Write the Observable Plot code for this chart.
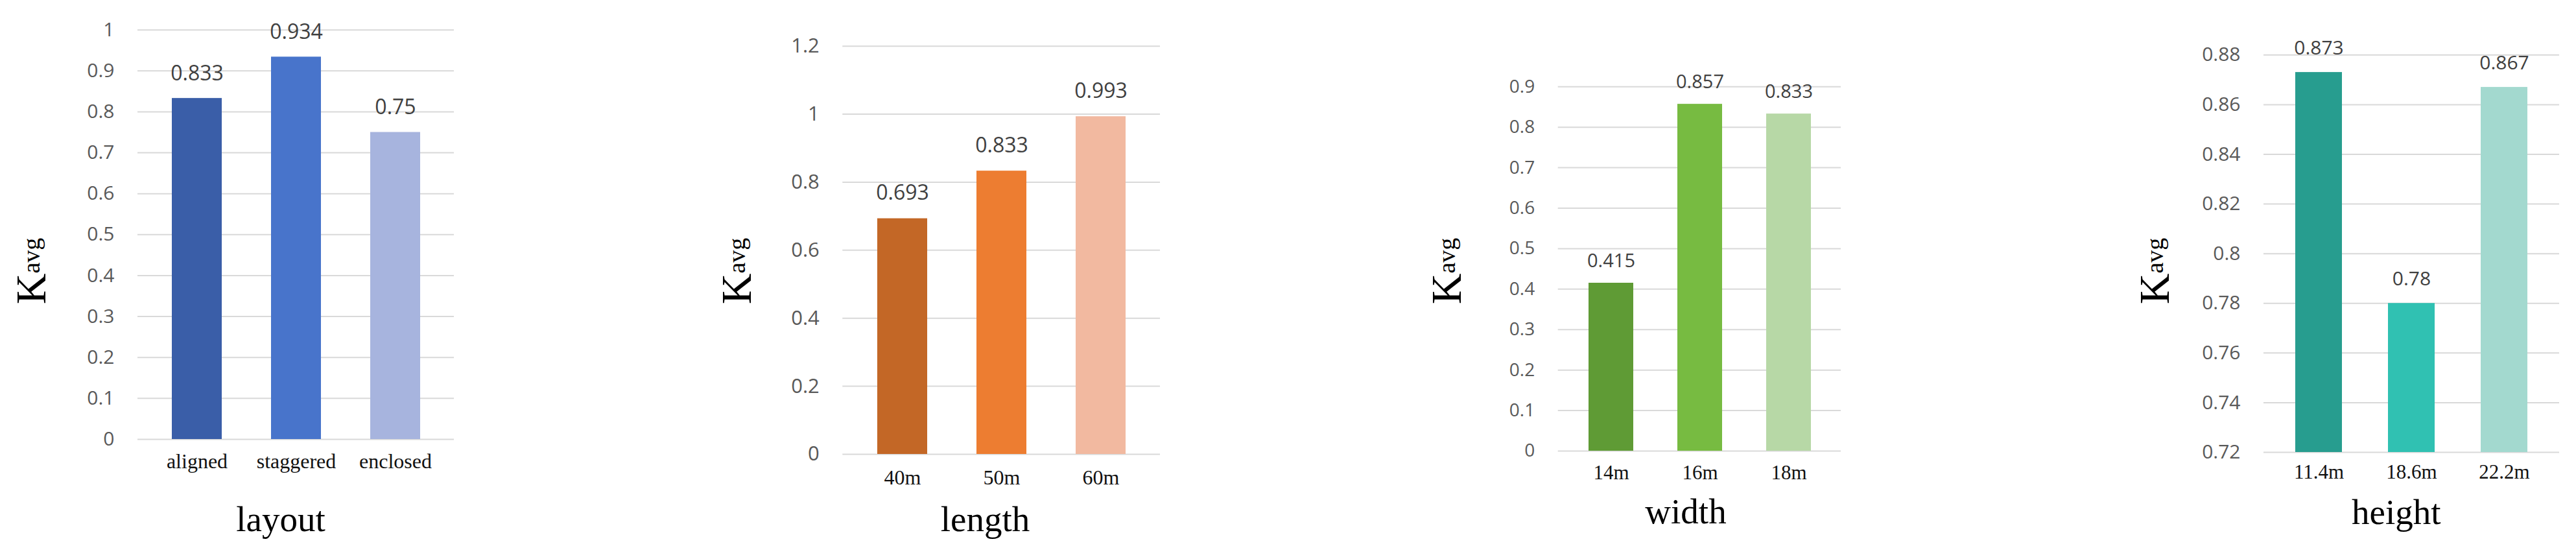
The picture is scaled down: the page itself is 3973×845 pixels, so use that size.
<!DOCTYPE html>
<html><head><meta charset="utf-8">
<script src="https://cdn.jsdelivr.net/npm/d3@7"></script>
<script src="https://cdn.jsdelivr.net/npm/@observablehq/plot@0.6"></script>
<style>
html,body{margin:0;padding:0;background:#fff;}
#root{position:relative;width:3973px;height:845px;overflow:hidden;background:#fff;}
#root svg{position:absolute;top:0;}
</style></head><body><div id="root"></div>
<script>
// ---- data ----
const layoutCats = ["aligned", "staggered", "enclosed"];
const layoutVals = [0.833, 0.934, 0.75];
const layoutTicks = [0, 0.1, 0.2, 0.3, 0.4, 0.5, 0.6, 0.7, 0.8, 0.9, 1];

const lengthCats = ["40m", "50m", "60m"];
const lengthVals = [0.693, 0.833, 0.993];
const lengthTicks = [0, 0.2, 0.4, 0.6, 0.8, 1, 1.2];

const widthCats = ["14m", "16m", "18m"];
const widthVals = [0.415, 0.857, 0.833];
const widthTicks = [0, 0.1, 0.2, 0.3, 0.4, 0.5, 0.6, 0.7, 0.8, 0.9];

const heightCats = ["11.4m", "18.6m", "22.2m"];
const heightVals = [0.873, 0.78, 0.867];
const heightTicks = [0.72, 0.74, 0.76, 0.78, 0.8, 0.82, 0.84, 0.86, 0.88];

const yLabelMain = "K";
const yLabelSub = "avg";

// ---- styles / layout ----
const panels = [
  {title: "layout", cats: layoutCats, vals: layoutVals, ticks: layoutTicks,
   colors: ["#3a5ea8", "#4874cb", "#a7b4de"],
   left: 0, width: 990, mL: 212, mR: 290, mT: 45.7, mB: 168,
   tickFs: 30, valFs: 32, catFs: 32, catPad: 22, valGap: 28,
   kX: 70, titleX: 433, titleY: 819},
  {title: "length", cats: lengthCats, vals: lengthVals, ticks: lengthTicks,
   colors: ["#c36726", "#ed7d31", "#f2b9a0"],
   left: 990, width: 1140, mL: 309.3, mR: 341, mT: 70.7, mB: 145,
   tickFs: 31, valFs: 32, catFs: 32, catPad: 24, valGap: 29,
   kX: 1158, titleX: 1519.5, titleY: 819},
  {title: "width", cats: widthCats, vals: widthVals, ticks: widthTicks,
   colors: ["#5f9b35", "#77bb41", "#b7d8a6"],
   left: 2130, width: 1110, mL: 272.7, mR: 401, mT: 133.3, mB: 150,
   tickFs: 28, valFs: 29, catFs: 31, catPad: 21, valGap: 24.5,
   kX: 2253, titleX: 2600, titleY: 807},
  {title: "height", cats: heightCats, vals: heightVals, ticks: heightTicks,
   colors: ["#279d8f", "#30c1b2", "#a3d9cf"],
   left: 3240, width: 733, mL: 251, mR: 26, mT: 84.3, mB: 148,
   tickFs: 30, valFs: 30, catFs: 31, catPad: 18, valGap: 28,
   kX: 3344.5, titleX: 3695.8, titleY: 807.7}
];

const fmt = d => String(+(+d).toFixed(3));
const root = document.getElementById("root");

for (const p of panels) {
  const data = p.cats.map((c, i) => ({cat: c, v: p.vals[i]}));
  const y0 = p.ticks[0], y1 = p.ticks[p.ticks.length - 1];
  const svg = Plot.plot({
    width: p.width,
    height: 845,
    marginLeft: p.mL, marginRight: p.mR, marginTop: p.mT, marginBottom: p.mB,
    style: {fontFamily: "'Open Sans', sans-serif", background: "transparent", overflow: "visible"},
    x: {domain: p.cats, type: "band", paddingInner: 0.5, paddingOuter: 0.34, label: null},
    y: {domain: [y0, y1], label: null},
    color: {domain: p.cats, range: p.colors},
    marks: [
      Plot.gridY(p.ticks, {stroke: "#d9d9d9", strokeOpacity: 1, strokeWidth: 2}),
      Plot.barY(data, {x: "cat", y1: () => y0, y2: "v", fill: "cat"}),
      Plot.text(data, {x: "cat", y: "v", text: d => fmt(d.v), lineAnchor: "bottom", dy: -p.valGap,
        fontSize: p.valFs, fill: "#404040", fontFamily: "'Open Sans', sans-serif"}),
      Plot.axisY({ticks: p.ticks, tickSize: 0, tickPadding: 36, tickFormat: fmt, label: null,
        fontSize: p.tickFs, fill: "#595959", fontFamily: "'Open Sans', sans-serif"}),
      Plot.axisX({tickSize: 0, tickPadding: p.catPad, label: null,
        fontSize: p.catFs, fill: "#111", fontFamily: "'Liberation Serif', 'Times New Roman', serif"})
    ]
  });
  svg.style.left = p.left + "px";
  root.appendChild(svg);
  const s = d3.select(svg);
  // rotated y-axis title K_avg (superscript-style)
  const t = s.append("text")
    .attr("transform", `translate(${p.kX - p.left},418) rotate(-90)`)
    .attr("font-family", "'Liberation Serif', 'Times New Roman', serif")
    .attr("fill", "#000");
  t.append("tspan").attr("font-size", 66).text(yLabelMain);
  t.append("tspan").attr("font-size", 38).attr("dy", -9).text(yLabelSub);
  // x-axis title
  s.append("text")
    .attr("x", p.titleX - p.left).attr("y", p.titleY)
    .attr("text-anchor", "middle")
    .attr("font-family", "'Liberation Serif', 'Times New Roman', serif")
    .attr("font-size", 55).attr("fill", "#000")
    .text(p.title);
}
</script></body></html>
